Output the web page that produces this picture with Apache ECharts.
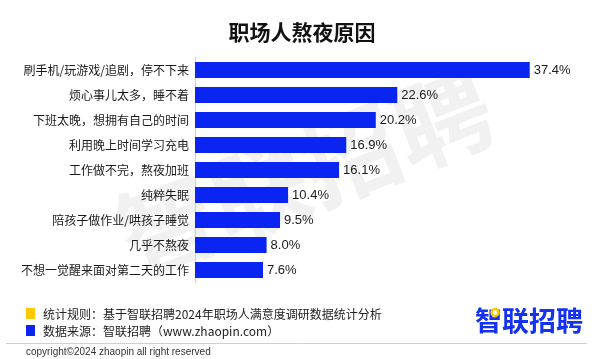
<!DOCTYPE html>
<html><head><meta charset="utf-8">
<script src="https://cdn.jsdelivr.net/npm/echarts@6/dist/echarts.min.js"></script>
<style>html,body{margin:0;padding:0;background:#fff}#c{width:600px;height:359px}</style>
</head><body><div id="c"></div>
<script>
var categories = ["刷手机/玩游戏/追剧，停不下来","烦心事儿太多，睡不着","下班太晚，想拥有自己的时间","利用晚上时间学习充电","工作做不完，熬夜加班","纯粹失眠","陪孩子做作业/哄孩子睡觉","几乎不熬夜","不想一觉醒来面对第二天的工作"];
var values = [37.4,22.6,20.2,16.9,16.1,10.4,9.5,8.0,7.6];
var titleText = "职场人熬夜原因";
var note1 = "统计规则：基于智联招聘2024年职场人满意度调研数据统计分析";
var note2 = "数据来源：智联招聘（www.zhaopin.com）";
var copyrightText = "copyright©2024 zhaopin all right reserved";
var logoText = "智联招聘";

var cjk = '"Noto Sans CJK SC","Noto Sans",sans-serif';
var chart = echarts.init(document.getElementById('c'), null, {renderer:'canvas'});
chart.setOption({
  animation:false,
  backgroundColor:'#fff',
  title:{text:titleText,left:297,top:17,textAlign:'center',textStyle:{fontFamily:cjk,fontSize:21,fontWeight:'bold',color:'#111'}},
  grid:{left:195,top:57.5,width:358,height:225,containLabel:false},
  xAxis:{type:'value',min:0,max:40,show:false},
  yAxis:{type:'category',data:categories,inverse:true,
    axisLine:{show:true,lineStyle:{color:'#cfcfcf',width:1}},
    axisTick:{show:false},
    axisLabel:{margin:6,fontFamily:cjk,fontSize:12,color:'#1a1a1a'}},
  series:[{type:'bar',data:values,barWidth:16,
    itemStyle:{color:'#0a24f2'},
    label:{show:true,position:'right',distance:4,formatter:function(p){return p.value.toFixed(1)+'%';},
      fontFamily:'"Liberation Sans",Arial,sans-serif',fontSize:13,color:'#1a1a1a'}}],
  graphic:[
    {type:'text',z:-10,silent:true,rotation:0.37,x:305,y:172,
      style:{text:logoText,font:'bold 98px "Noto Sans CJK SC"',fill:'rgba(0,0,0,0.055)',textAlign:'center',textVerticalAlign:'middle'}},
    {type:'rect',shape:{x:26,y:308,width:9,height:11},style:{fill:'#ffc800'}},
    {type:'rect',shape:{x:26,y:325,width:9,height:11},style:{fill:'#0a24f2'}},
    {type:'text',x:43,y:314,style:{text:note1,font:'12px "Noto Sans CJK SC"',fill:'#222',textVerticalAlign:'middle'}},
    {type:'text',x:43,y:331,style:{text:note2,font:'12px "Noto Sans CJK SC"',fill:'#222',textVerticalAlign:'middle'}},
    {type:'text',x:475,y:321,style:{text:logoText,font:'bold 27px "Noto Sans CJK SC"',fill:'#1432f0',textVerticalAlign:'middle'}},
    {type:'circle',shape:{cx:495,cy:312.5,r:3.5},style:{fill:'#fff',stroke:'#ffc800',lineWidth:2.5}},
    {type:'line',shape:{x1:6,y1:343.5,x2:587,y2:343.5},style:{stroke:'#d0d0d0',lineWidth:1}},
    {type:'text',x:26,y:352,style:{text:copyrightText,font:'10px "Liberation Sans",Arial,sans-serif',fill:'#333',textVerticalAlign:'middle'}}
  ]
});
</script></body></html>
